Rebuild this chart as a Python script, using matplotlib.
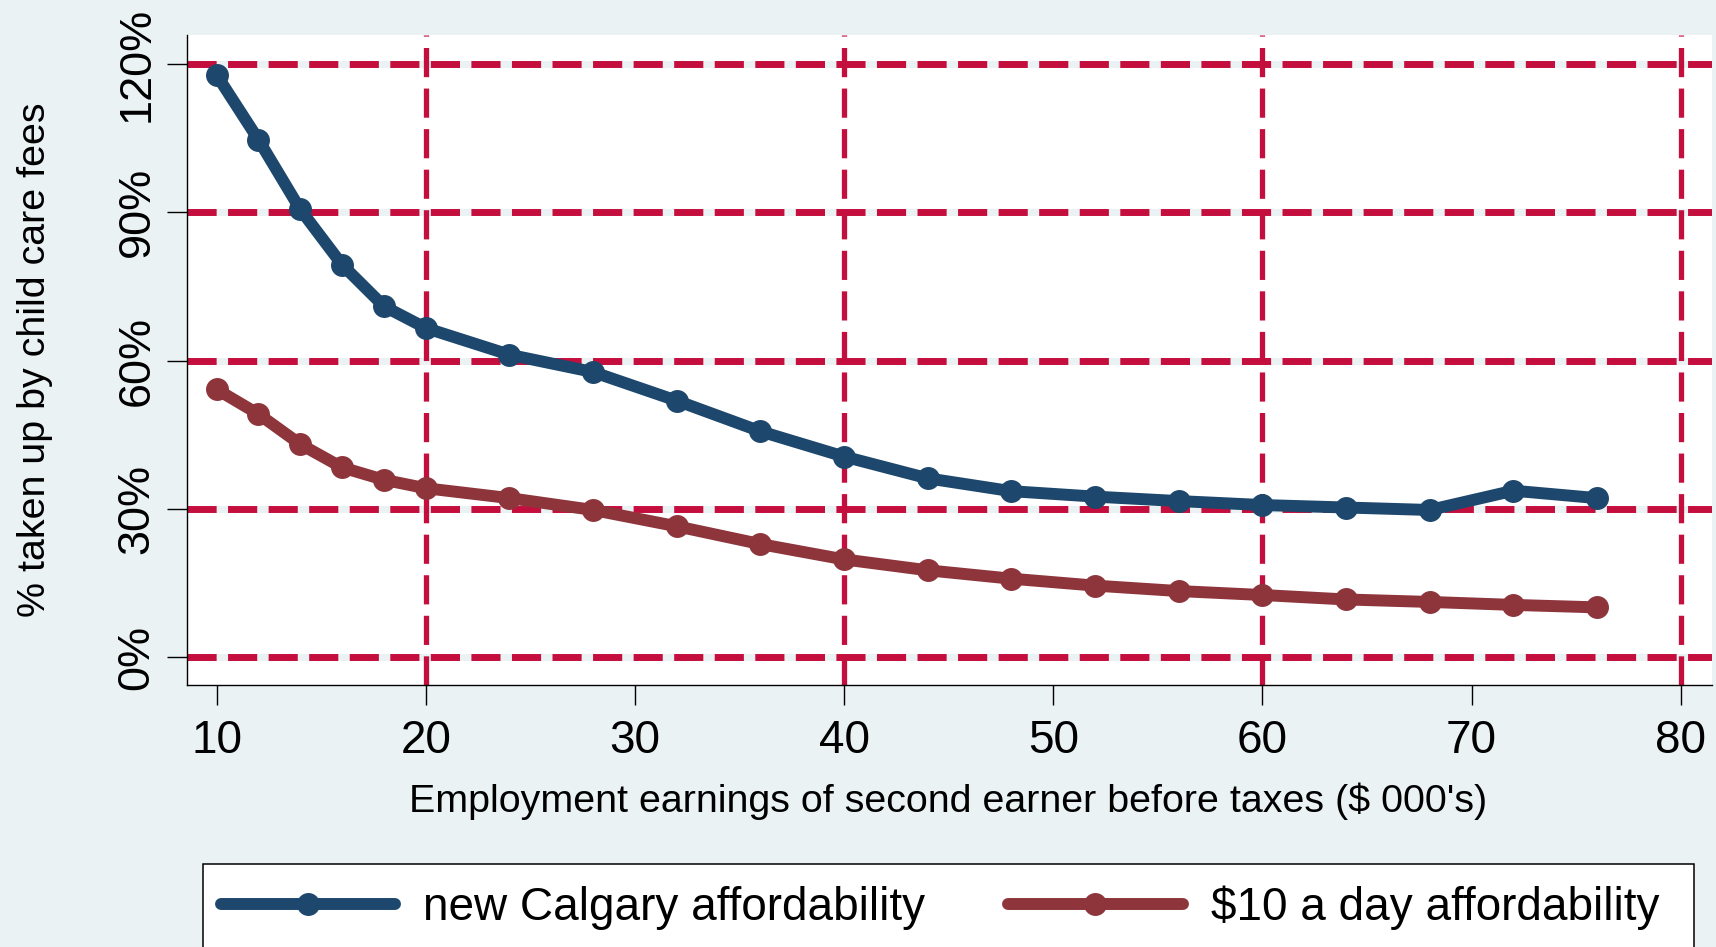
import matplotlib
matplotlib.use("Agg")
import matplotlib.pyplot as plt
from matplotlib.patches import Rectangle
from matplotlib.ticker import FuncFormatter

# ---- data ----
earnings = [10, 12, 14, 16, 18, 20, 24, 28, 32, 36, 40, 44, 48, 52, 56, 60, 64, 68, 72, 76]
calgary = [117.8, 104.7, 90.6, 79.4, 71.0, 66.6, 61.2, 57.7, 51.9, 45.7, 40.6, 36.2,
           33.6, 32.5, 31.6, 30.8, 30.3, 29.8, 33.7, 32.2]
tenday = [54.2, 49.2, 43.1, 38.4, 35.9, 34.2, 32.2, 29.8, 26.5, 22.9, 19.8, 17.6,
          15.9, 14.5, 13.4, 12.6, 11.7, 11.2, 10.6, 10.1]
series_labels = ["new Calgary affordability", "$10 a day affordability"]
x_ticks = [10, 20, 30, 40, 50, 60, 70, 80]
x_grid = [20, 40, 60, 80]
y_ticks = [0, 30, 60, 90, 120]
x_label = "Employment earnings of second earner before taxes ($ 000's)"
y_label = "% taken up by child care fees"

# ---- style ----
BG = "#EAF2F3"
NAVY = "#1D476C"
MAROON = "#8E353C"
GRID = "#C40E3D"
W, H = 1716, 947

plt.rcParams["font.family"] = ["Liberation Sans", "DejaVu Sans"]
plt.rcParams["lines.scale_dashes"] = False

fig = plt.figure(figsize=(W / 100, H / 100), dpi=100, facecolor=BG)
ax = fig.add_axes([186.7 / W, 1 - 685 / H, (1711.7 - 186.7) / W, 650 / H])
ax.set_facecolor("white")

ax.set_xlim(8.57, 81.48)
ax.set_ylim(-5.6, 125.87)

dash = (0, (21.0, 8.2))
for yv in y_ticks:
    ax.axhline(yv, color=GRID, lw=5.0, linestyle=dash, gapcolor=BG, zorder=1)
for xv in x_grid:
    ax.axvline(xv, color=GRID, lw=3.8, linestyle=dash, zorder=1)

l1, = ax.plot(earnings, calgary, color=NAVY, lw=8.6, marker="o", ms=15.5,
              solid_capstyle="round", solid_joinstyle="round", zorder=3,
              label=series_labels[0])
l2, = ax.plot(earnings, tenday, color=MAROON, lw=8.6, marker="o", ms=15.5,
              solid_capstyle="round", solid_joinstyle="round", zorder=3,
              label=series_labels[1])

for s in ["top", "right"]:
    ax.spines[s].set_visible(False)
for s in ["left", "bottom"]:
    ax.spines[s].set_color("black")
    ax.spines[s].set_linewidth(1.0)
    ax.spines[s].set_zorder(2)

ax.set_xticks(x_ticks)
ax.set_yticks(y_ticks)
ax.yaxis.set_major_formatter(FuncFormatter(lambda v, p: f"{v:.0f}%"))
ax.tick_params(axis="both", direction="out", length=14.4, width=1.0, color="black",
               labelcolor="black")
ax.tick_params(axis="x", labelsize=33, pad=10)
ax.tick_params(axis="y", labelsize=32.5, pad=6.5, labelrotation=90)
for t in ax.get_yticklabels():
    t.set_verticalalignment("center")

ax.set_xlabel(x_label, fontsize=28.4)
ax.xaxis.set_label_coords(0.4994, -0.15)
ax.set_ylabel(y_label, fontsize=28.4)
ax.yaxis.set_label_coords(-0.0877, 0.5)

# legend box (extends below the bottom edge, as in the reference)
box_top = 1 - 864.3 / H
fig.patches.append(Rectangle((202.7 / W, -0.05), (1694 - 202.7) / W, box_top + 0.05,
                             transform=fig.transFigure, facecolor="white",
                             edgecolor="black", linewidth=1.1, zorder=1))

leg = fig.legend(handles=[l1, l2], loc="center left", ncol=2,
                 bbox_to_anchor=(220.7 / W, 1 - 908.0 / H),
                 bbox_transform=fig.transFigure, fontsize=33, frameon=False,
                 borderaxespad=0, borderpad=0, handlelength=3.8,
                 handletextpad=0.62, columnspacing=1.81, numpoints=1)
leg.set_zorder(5)

fig.savefig("out.png", dpi=100, facecolor=BG)
